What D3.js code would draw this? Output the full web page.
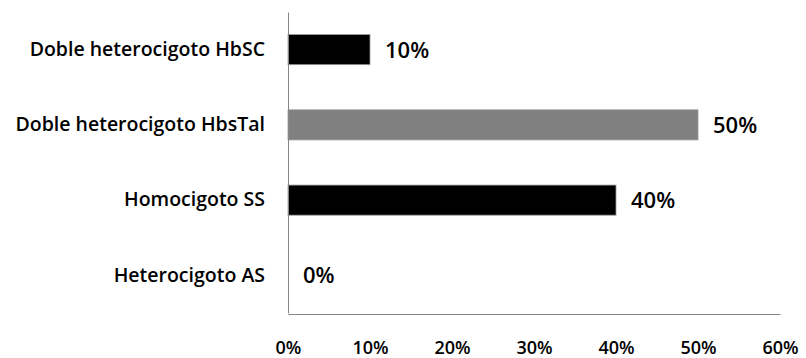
<!DOCTYPE html>
<html>
<head>
<meta charset="utf-8">
<script src="https://cdn.jsdelivr.net/npm/d3@7"></script>
<style>
  body { margin: 0; background: #fff; }
  text { font-family: "Open Sans", "DejaVu Sans", sans-serif; font-weight: bold; fill: #000; }
</style>
</head>
<body>
<div id="chart"></div>
<script>
// categories top to bottom
const categories = ["Doble heterocigoto HbSC", "Doble heterocigoto HbsTal", "Homocigoto SS", "Heterocigoto AS"];
const values = [0.10, 0.50, 0.40, 0.00];
const barColors = ["#000000", "#808080", "#000000", "#000000"];
const xTicks = [0, 0.1, 0.2, 0.3, 0.4, 0.5, 0.6];

const W = 806, H = 358;
const MARGIN = { LEFT: 288, RIGHT: 26, TOP: 12, BOTTOM: 45 };
const width = W - MARGIN.LEFT - MARGIN.RIGHT;
const height = H - MARGIN.TOP - MARGIN.BOTTOM;

const svg = d3.select("#chart").append("svg")
    .attr("width", W)
    .attr("height", H);

const g = svg.append("g")
    .attr("transform", `translate(${MARGIN.LEFT}, ${MARGIN.TOP})`);

const x = d3.scaleLinear().domain([0, 0.6]).range([0, width]);
const y = d3.scaleBand().domain(categories).range([0, height]).paddingInner(0.6).paddingOuter(0.3);

const data = categories.map((c, i) => ({ cat: c, value: values[i], color: barColors[i] }));

// bars
g.selectAll(".bar")
    .data(data)
    .join("rect")
    .attr("class", "bar")
    .attr("x", 0)
    .attr("y", d => y(d.cat))
    .attr("width", d => x(d.value))
    .attr("height", y.bandwidth())
    .attr("fill", d => d.color)
    .attr("stroke", d => d.value > 0 ? "#9a9a9a" : "none")
    .attr("stroke-width", 0.8);

// value labels
g.selectAll(".val")
    .data(data)
    .join("text")
    .attr("class", "val")
    .attr("x", d => x(d.value) + 15)
    .attr("y", d => y(d.cat) + y.bandwidth() / 2)
    .attr("dy", "0.36em")
    .style("font-size", "22px")
    .style("font-weight", "600")
    .text(d => d3.format(".0%")(d.value));

// y axis: line + category labels, no ticks
const yAxis = g.append("g").call(d3.axisLeft(y).tickSize(0).tickPadding(23));
yAxis.select(".domain").attr("stroke", "#868686");
yAxis.selectAll("text")
    .style("font-size", "19.5px")
    .style("font-family", "'Open Sans', sans-serif")
    .style("font-weight", "600")
    .attr("fill", "#000");

// x axis at bottom, no tick marks
const xAxis = g.append("g")
    .attr("transform", `translate(0, ${height + 1})`)
    .call(d3.axisBottom(x).tickValues(xTicks).tickFormat(d3.format(".0%")).tickSize(0).tickPadding(27));
xAxis.select(".domain").attr("stroke", "#868686");
xAxis.selectAll("text")
    .style("font-size", "18px")
    .style("font-family", "'Open Sans', sans-serif")
    .style("font-weight", "600")
    .attr("fill", "#000");
</script>
</body>
</html>
